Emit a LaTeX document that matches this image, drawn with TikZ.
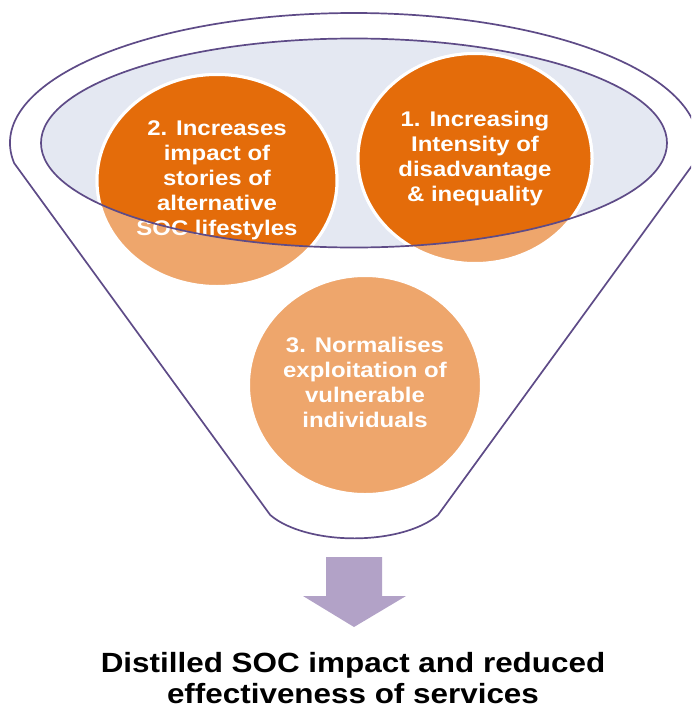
\documentclass[tikz,border=0pt]{standalone}
\usepackage{fontspec}
\usetikzlibrary{shapes.geometric}
\newfontfamily\funnelfont{Liberation Sans}[FakeStretch=1.13]
\definecolor{funnelline}{RGB}{94,75,135}
\definecolor{rimfill}{RGB}{228,232,242}
\definecolor{darkorange}{RGB}{228,108,10}
\definecolor{lightorange}{RGB}{238,166,108}
\definecolor{arrowfill}{RGB}{178,162,199}

\begin{document}
\begin{tikzpicture}[x=1pt, y=-1pt,
    bubble/.style={ellipse, draw=white, line width=3pt, fill=lightorange, inner sep=0pt},
    bubbletext/.style={align=center, text=white, inner sep=0pt,
      font=\funnelfont\bfseries\fontsize{21.2}{25}\selectfont},
    rimline/.style={funnelline, line width=1.7pt, line join=round}]
    \useasboundingbox (0,0) rectangle (691,709);
    \clip (0,0) rectangle (691,709);
    \coordinate (rimc) at (354,143);

    % Funnel outline: upper half of the outer rim (radii 344 and 130), straight sides, rounded bottom
    \draw[rimline]
      (rimc) ++(171.1:344 and 130) coordinate (lefttop)
      arc[start angle=171.1, end angle=368.9, x radius=344, y radius=130] coordinate (righttop)
      -- (438,515) coordinate (rightbot)
      arc[start angle=28, end angle=152, x radius=95, y radius=44] coordinate (leftbot)
      -- cycle;

    % Inner rim (filled, outline drawn last so it runs over the bubbles)
    \fill[rimfill] (rimc) ellipse[x radius=313, y radius=104.5];

    % Bubbles: light everywhere ...
    \foreach \name/\pos/\w/\h in {intensity/{(475,158.5)}/234/210,
                                  stories/{(217,180.5)}/240/212,
                                  exploit/{(365,385)}/233/219}
      \node[bubble, minimum width=\w pt, minimum height=\h pt] (\name) at \pos {};

    % ... and dark where they sit inside the rim
    \begin{scope}
      \clip (rimc) ellipse[x radius=313, y radius=104.5];
      \foreach \name/\rx/\ry in {intensity/117/105, stories/120/106}
        \filldraw[darkorange, draw=white, line width=3pt] (\name) ellipse[x radius=\rx, y radius=\ry];
    \end{scope}

    \node[bubbletext] (intensitytext) at (intensity) {1. Increasing\\Intensity of\\disadvantage\\\& inequality};
    \node[bubbletext] (storiestext) at (stories) {2. Increases\\impact of\\stories of\\alternative\\SOC lifestyles};
    \node[bubbletext] (exploittext) at ([yshift=3pt]exploit) {3. Normalises\\exploitation of\\vulnerable\\individuals};

    \draw[rimline] (rimc) ellipse[x radius=313, y radius=104.5];

    % Block arrow under the funnel
    \coordinate (arrowtop) at (354,557);
    \coordinate (arrowtip) at (354,627);
    \fill[arrowfill] (arrowtop) ++(-28,0) -- ++(56,0) -- ++(0,39) -- ++(24,0)
      -- (arrowtip) -- ++(-51,-31) -- ++(23,0) -- cycle;

    \node[align=center, inner sep=0pt, anchor=north,
      font=\funnelfont\bfseries\fontsize{27.8}{31}\selectfont] (result) at (353,652)
      {Distilled SOC impact and reduced\\effectiveness of services};
\end{tikzpicture}
\end{document}
